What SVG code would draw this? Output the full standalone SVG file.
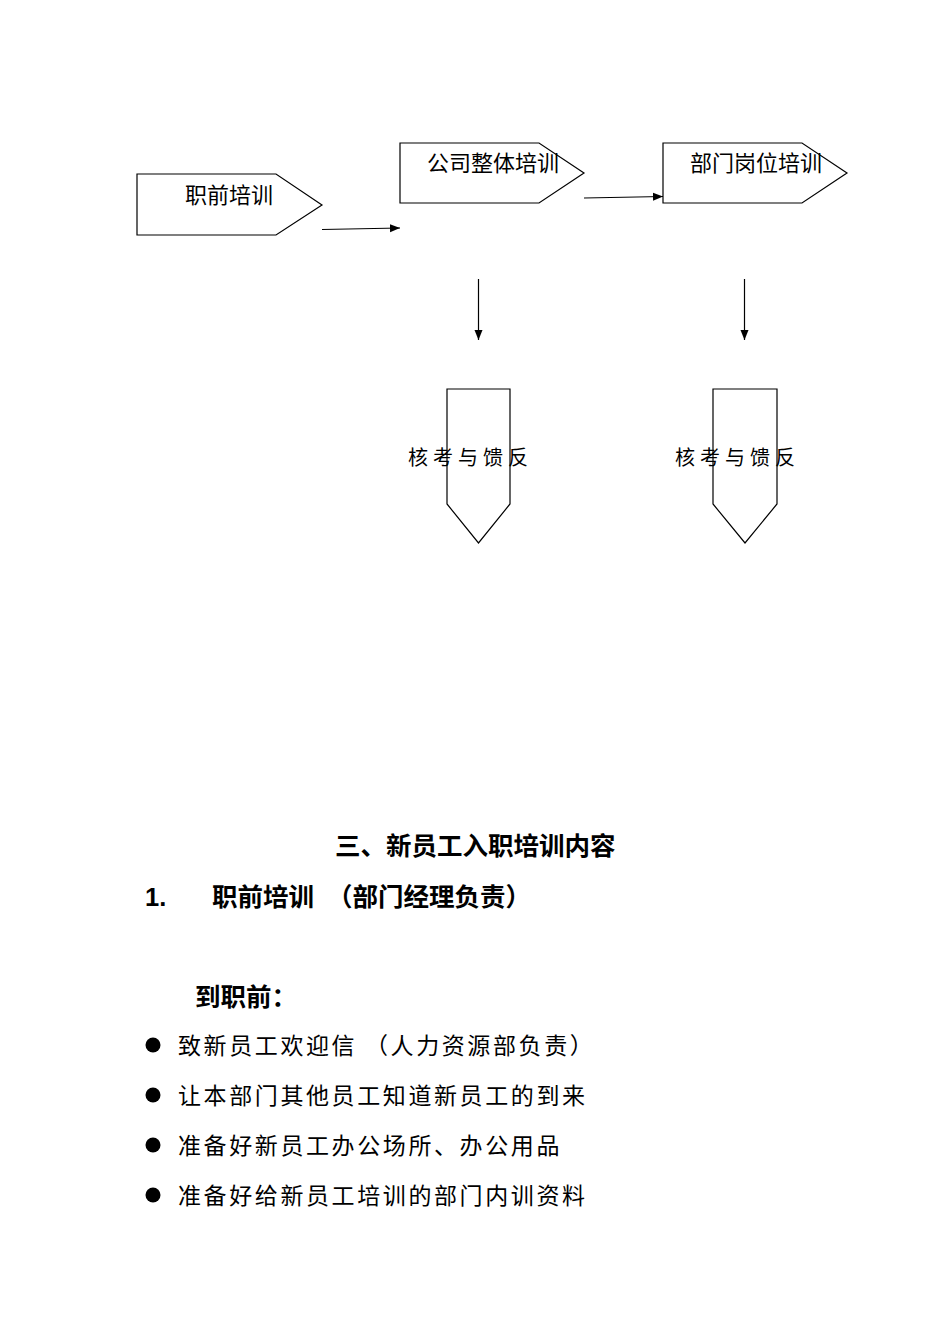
<svg xmlns="http://www.w3.org/2000/svg" width="950" height="1344" viewBox="0 0 950 1344">
<style>
.shape{fill:#fff;stroke:#000;stroke-width:1.2}
.conn{stroke:#000;stroke-width:1.2;fill:none}
.lbl{font-family:"Noto Sans CJK SC","Liberation Sans",sans-serif;font-size:22px;fill:#000}
.fb{font-family:"Noto Sans CJK SC","Liberation Sans",sans-serif;font-size:20px;letter-spacing:5px;fill:#000}
.h{font-family:"Liberation Sans","Noto Sans CJK SC",sans-serif;font-weight:bold;font-size:25.5px;fill:#000}
.b{font-family:"Noto Sans CJK SC","Liberation Serif",serif;font-size:23px;letter-spacing:2.6px;fill:#000}
</style>
<defs>
<marker id="ah" viewBox="0 0 10 10" refX="10" refY="5" markerWidth="10" markerHeight="10" markerUnits="userSpaceOnUse" orient="auto">
<path d="M0,1 L10,5 L0,9 Z" fill="#000"/>
</marker>
</defs>
<rect width="950" height="1344" fill="#fff"/>
<g id="connectors">
<line class="conn" x1="322" y1="229.5" x2="400" y2="228" marker-end="url(#ah)"/>
<line class="conn" x1="584" y1="198" x2="663" y2="196.5" marker-end="url(#ah)"/>
<line class="conn" x1="478.5" y1="279" x2="478.5" y2="340" marker-end="url(#ah)"/>
<line class="conn" x1="744.5" y1="279" x2="744.5" y2="340" marker-end="url(#ah)"/>
</g>
<g id="node-zhiqian">
<polygon class="shape" points="137,174 276,174 322,205 276,235 137,235"/>
<text class="lbl" x="185" y="203">职前培训</text>
</g>
<g id="node-gongsi">
<polygon class="shape" points="400,143 539,143 584,173 539,203 400,203"/>
<text class="lbl" x="427" y="171">公司整体培训</text>
</g>
<g id="node-bumen">
<polygon class="shape" points="663,143 802,143 847,173 802,203 663,203"/>
<text class="lbl" x="690" y="171">部门岗位培训</text>
</g>
<g id="node-fankui1">
<polygon class="shape" points="447,389 510,389 510,504 478.5,543 447,504"/>
<text class="fb" x="408" y="465">核考与馈反</text>
</g>
<g id="node-fankui2">
<polygon class="shape" points="713,389 777,389 777,504 745,543 713,504"/>
<text class="fb" x="675" y="465">核考与馈反</text>
</g>
<g id="body-text">
<text class="h" x="335" y="855">三、新员工入职培训内容</text>
<text class="h" x="145" y="906">1.</text>
<text class="h" x="212" y="906">职前培训</text>
<text class="h" x="327" y="906">（部门经理负责）</text>
<text class="h" x="195" y="1006" font-size="24">到职前：</text>
<circle cx="153" cy="1045" r="7.5"/>
<circle cx="153" cy="1095" r="7.5"/>
<circle cx="153" cy="1145" r="7.5"/>
<circle cx="153" cy="1195" r="7.5"/>
<text class="b" x="178" y="1054" xml:space="preserve">致新员工欢迎信 （人力资源部负责）</text>
<text class="b" x="178" y="1104">让本部门其他员工知道新员工的到来</text>
<text class="b" x="178" y="1154">准备好新员工办公场所、办公用品</text>
<text class="b" x="178" y="1204">准备好给新员工培训的部门内训资料</text>
</g>
</svg>
